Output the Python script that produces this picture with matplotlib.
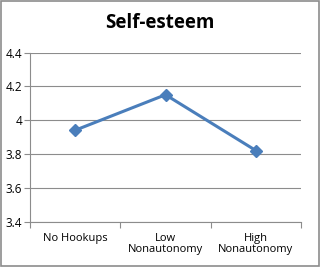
import matplotlib
matplotlib.use("Agg")
import matplotlib.pyplot as plt
from matplotlib.patches import Rectangle

categories = ["No Hookups", "Low\nNonautonomy", "High\nNonautonomy"]
values = [3.94, 4.15, 3.82]
yticks = [3.4, 3.6, 3.8, 4.0, 4.2, 4.4]
ytick_labels = ["3.4", "3.6", "3.8", "4", "4.2", "4.4"]

plt.rcParams['font.family'] = ['Open Sans', 'DejaVu Sans']
fig = plt.figure(figsize=(3.2, 2.67), dpi=100)
fig.patches.append(Rectangle((0.003, 0.003), 0.994, 0.994, transform=fig.transFigure,
                             fill=False, edgecolor='#8c8c8c', linewidth=1.2))
ax = fig.add_axes([30/320, 1-221.5/267, 271/320, 169/267])
x = list(range(len(categories)))
ax.plot(x, values, color='#4A7EBB', linewidth=2.2, marker='D', markersize=6.5,
        markerfacecolor='#4A7EBB', markeredgecolor='#4A7EBB')
ax.set_xlim(-0.5, 2.5)
ax.set_ylim(3.4, 4.4)
ax.set_yticks(yticks)
ax.set_yticklabels(ytick_labels, fontsize=8.5)
ax.yaxis.grid(True, color='#8c8c8c', linewidth=0.8)
ax.set_axisbelow(True)
ax.set_xticks([-0.5, 0.5, 1.5, 2.5], minor=False)
ax.set_xticklabels([])
ax.set_xticks(x, minor=True)
ax.set_xticklabels(categories, minor=True, fontsize=8, linespacing=1.1)
ax.tick_params(axis='x', which='minor', length=0, pad=8)
ax.tick_params(axis='x', which='major', length=4, color='#8c8c8c')
ax.tick_params(axis='y', length=4, color='#8c8c8c', pad=1.5)
for s in ['top', 'right']:
    ax.spines[s].set_visible(False)
for s in ['left', 'bottom']:
    ax.spines[s].set_color('#8c8c8c')
fig.text(0.5, 1-23/267, "Self-esteem", ha='center', va='center', fontsize=13.5, fontweight='bold')
fig.savefig("out.png", dpi=100)
